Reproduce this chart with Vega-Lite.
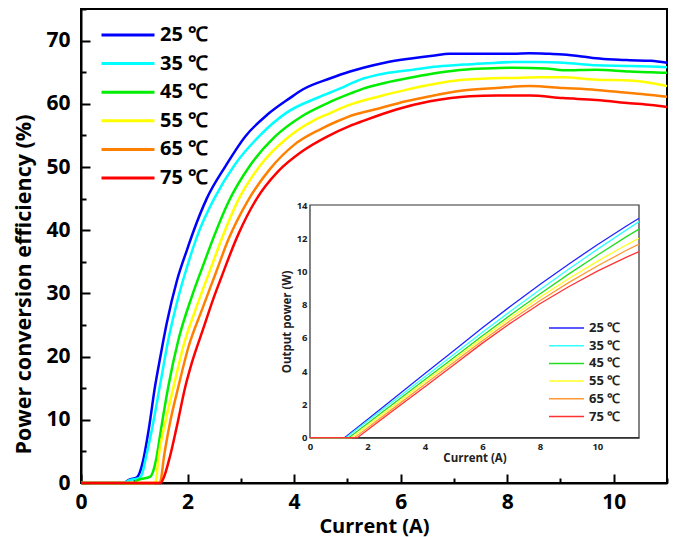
{
  "$schema": "https://vega.github.io/schema/vega-lite/v6.json",
  "width": 586,
  "height": 474,
  "autosize": {"type": "none"},
  "padding": {"left": 81, "top": 9, "right": 6, "bottom": 54},
  "background": "white",
  "config": {"view": {"stroke": "black", "strokeWidth": 2}, "font": "Open Sans"},
  "datasets": {
    "pce": [
      {"s":"25 ℃","x":0,"y":0},{"s":"25 ℃","x":0.8,"y":0},{"s":"25 ℃","x":0.9,"y":0.5},{"s":"25 ℃","x":1.05,"y":0.9},{"s":"25 ℃","x":1.1,"y":1.6},{"s":"25 ℃","x":1.17,"y":3.7},{"s":"25 ℃","x":1.27,"y":8.4},{"s":"25 ℃","x":1.39,"y":15.3},{"s":"25 ℃","x":1.49,"y":20},{"s":"25 ℃","x":1.61,"y":25.3},{"s":"25 ℃","x":1.8,"y":32},{"s":"25 ℃","x":1.99,"y":36.9},{"s":"25 ℃","x":2.11,"y":39.8},{"s":"25 ℃","x":2.36,"y":45.0},{"s":"25 ℃","x":2.71,"y":50.1},{"s":"25 ℃","x":3.08,"y":54.8},{"s":"25 ℃","x":3.5,"y":58.3},{"s":"25 ℃","x":3.92,"y":60.9},{"s":"25 ℃","x":4.17,"y":62.3},{"s":"25 ℃","x":4.67,"y":64.0},{"s":"25 ℃","x":5.05,"y":65.1},{"s":"25 ℃","x":5.3,"y":65.7},{"s":"25 ℃","x":5.7,"y":66.5},{"s":"25 ℃","x":6.23,"y":67.2},{"s":"25 ℃","x":6.6,"y":67.6},{"s":"25 ℃","x":6.92,"y":67.9},{"s":"25 ℃","x":7.5,"y":67.9},{"s":"25 ℃","x":8.11,"y":67.9},{"s":"25 ℃","x":8.42,"y":68.0},{"s":"25 ℃","x":8.8,"y":67.9},{"s":"25 ℃","x":9.05,"y":67.8},{"s":"25 ℃","x":9.4,"y":67.5},{"s":"25 ℃","x":9.67,"y":67.2},{"s":"25 ℃","x":10.0,"y":67.0},{"s":"25 ℃","x":10.3,"y":66.9},{"s":"25 ℃","x":10.7,"y":66.8},{"s":"25 ℃","x":11.0,"y":66.5},
      {"s":"35 ℃","x":0,"y":0},{"s":"35 ℃","x":0.8,"y":0},{"s":"35 ℃","x":0.9,"y":0.4},{"s":"35 ℃","x":1.1,"y":0.8},{"s":"35 ℃","x":1.15,"y":1.5},{"s":"35 ℃","x":1.21,"y":3.7},{"s":"35 ℃","x":1.33,"y":8.4},{"s":"35 ℃","x":1.49,"y":15.8},{"s":"35 ℃","x":1.64,"y":22.7},{"s":"35 ℃","x":1.83,"y":29.5},{"s":"35 ℃","x":2.02,"y":35.0},{"s":"35 ℃","x":2.2,"y":39.5},{"s":"35 ℃","x":2.5,"y":45.0},{"s":"35 ℃","x":2.89,"y":50.4},{"s":"35 ℃","x":3.36,"y":55.0},{"s":"35 ℃","x":3.86,"y":58.6},{"s":"35 ℃","x":4.45,"y":61.0},{"s":"35 ℃","x":4.8,"y":62.2},{"s":"35 ℃","x":5.3,"y":64.0},{"s":"35 ℃","x":5.7,"y":64.8},{"s":"35 ℃","x":6.23,"y":65.4},{"s":"35 ℃","x":6.7,"y":65.9},{"s":"35 ℃","x":7.17,"y":66.2},{"s":"35 ℃","x":7.6,"y":66.4},{"s":"35 ℃","x":8.11,"y":66.6},{"s":"35 ℃","x":8.6,"y":66.6},{"s":"35 ℃","x":9.05,"y":66.5},{"s":"35 ℃","x":9.67,"y":66.1},{"s":"35 ℃","x":10.3,"y":66.0},{"s":"35 ℃","x":10.7,"y":65.9},{"s":"35 ℃","x":11.0,"y":65.8},
      {"s":"45 ℃","x":0,"y":0},{"s":"45 ℃","x":1.0,"y":0},{"s":"45 ℃","x":1.05,"y":0.4},{"s":"45 ℃","x":1.3,"y":1.0},{"s":"45 ℃","x":1.36,"y":2.0},{"s":"45 ℃","x":1.41,"y":3.7},{"s":"45 ℃","x":1.5,"y":8.4},{"s":"45 ℃","x":1.64,"y":15.3},{"s":"45 ℃","x":1.83,"y":22.7},{"s":"45 ℃","x":2.08,"y":29.5},{"s":"45 ℃","x":2.3,"y":34.6},{"s":"45 ℃","x":2.5,"y":39.1},{"s":"45 ℃","x":2.77,"y":44.5},{"s":"45 ℃","x":3.17,"y":50.2},{"s":"45 ℃","x":3.64,"y":54.8},{"s":"45 ℃","x":4.14,"y":58.0},{"s":"45 ℃","x":4.65,"y":60.2},{"s":"45 ℃","x":5.05,"y":61.6},{"s":"45 ℃","x":5.3,"y":62.4},{"s":"45 ℃","x":5.7,"y":63.3},{"s":"45 ℃","x":6.23,"y":64.2},{"s":"45 ℃","x":6.7,"y":64.9},{"s":"45 ℃","x":7.17,"y":65.4},{"s":"45 ℃","x":7.6,"y":65.6},{"s":"45 ℃","x":8.11,"y":65.7},{"s":"45 ℃","x":8.73,"y":65.6},{"s":"45 ℃","x":9.05,"y":65.3},{"s":"45 ℃","x":9.67,"y":65.4},{"s":"45 ℃","x":10.3,"y":65.1},{"s":"45 ℃","x":10.7,"y":65.0},{"s":"45 ℃","x":11.0,"y":64.9},
      {"s":"55 ℃","x":0,"y":0},{"s":"55 ℃","x":1.38,"y":0},{"s":"55 ℃","x":1.41,"y":0.5},{"s":"55 ℃","x":1.45,"y":3.7},{"s":"55 ℃","x":1.58,"y":9.5},{"s":"55 ℃","x":1.74,"y":15.3},{"s":"55 ℃","x":1.92,"y":21.6},{"s":"55 ℃","x":2.17,"y":27.9},{"s":"55 ℃","x":2.42,"y":33.6},{"s":"55 ℃","x":2.64,"y":38.6},{"s":"55 ℃","x":2.93,"y":44.4},{"s":"55 ℃","x":3.36,"y":50.2},{"s":"55 ℃","x":3.86,"y":54.5},{"s":"55 ℃","x":4.4,"y":57.5},{"s":"55 ℃","x":4.67,"y":58.5},{"s":"55 ℃","x":5.0,"y":59.7},{"s":"55 ℃","x":5.61,"y":61.2},{"s":"55 ℃","x":6.1,"y":62.2},{"s":"55 ℃","x":6.55,"y":63.0},{"s":"55 ℃","x":7.17,"y":63.8},{"s":"55 ℃","x":7.6,"y":64.0},{"s":"55 ℃","x":8.11,"y":64.1},{"s":"55 ℃","x":8.6,"y":64.2},{"s":"55 ℃","x":9.05,"y":64.2},{"s":"55 ℃","x":9.67,"y":63.8},{"s":"55 ℃","x":10.3,"y":63.7},{"s":"55 ℃","x":10.7,"y":63.3},{"s":"55 ℃","x":11.0,"y":62.8},
      {"s":"65 ℃","x":0,"y":0},{"s":"65 ℃","x":1.47,"y":0},{"s":"65 ℃","x":1.5,"y":0.5},{"s":"65 ℃","x":1.55,"y":3.7},{"s":"65 ℃","x":1.67,"y":9.5},{"s":"65 ℃","x":1.83,"y":15.3},{"s":"65 ℃","x":2.02,"y":21.6},{"s":"65 ℃","x":2.27,"y":27.4},{"s":"65 ℃","x":2.52,"y":33.0},{"s":"65 ℃","x":2.77,"y":38.6},{"s":"65 ℃","x":3.12,"y":44.5},{"s":"65 ℃","x":3.55,"y":49.7},{"s":"65 ℃","x":4.0,"y":53.5},{"s":"65 ℃","x":4.5,"y":56.0},{"s":"65 ℃","x":4.8,"y":57.2},{"s":"65 ℃","x":5.0,"y":57.9},{"s":"65 ℃","x":5.61,"y":59.3},{"s":"65 ℃","x":6.1,"y":60.4},{"s":"65 ℃","x":6.55,"y":61.2},{"s":"65 ℃","x":7.17,"y":62.1},{"s":"65 ℃","x":7.8,"y":62.5},{"s":"65 ℃","x":8.42,"y":62.8},{"s":"65 ℃","x":9.05,"y":62.5},{"s":"65 ℃","x":9.67,"y":62.2},{"s":"65 ℃","x":10.3,"y":61.7},{"s":"65 ℃","x":10.7,"y":61.4},{"s":"65 ℃","x":11.0,"y":61.1},
      {"s":"75 ℃","x":0,"y":0},{"s":"75 ℃","x":1.49,"y":0},{"s":"75 ℃","x":1.55,"y":0.8},{"s":"75 ℃","x":1.67,"y":4.2},{"s":"75 ℃","x":1.8,"y":9.0},{"s":"75 ℃","x":1.96,"y":15.3},{"s":"75 ℃","x":2.08,"y":19.0},{"s":"75 ℃","x":2.29,"y":24.3},{"s":"75 ℃","x":2.49,"y":29.3},{"s":"75 ℃","x":2.61,"y":32.0},{"s":"75 ℃","x":2.95,"y":39.3},{"s":"75 ℃","x":3.3,"y":45.0},{"s":"75 ℃","x":3.7,"y":49.3},{"s":"75 ℃","x":4.14,"y":52.4},{"s":"75 ℃","x":4.62,"y":54.8},{"s":"75 ℃","x":5.05,"y":56.5},{"s":"75 ℃","x":5.3,"y":57.3},{"s":"75 ℃","x":5.92,"y":59.1},{"s":"75 ℃","x":6.55,"y":60.4},{"s":"75 ℃","x":7.3,"y":61.2},{"s":"75 ℃","x":7.8,"y":61.3},{"s":"75 ℃","x":8.42,"y":61.3},{"s":"75 ℃","x":9.05,"y":60.9},{"s":"75 ℃","x":9.67,"y":60.6},{"s":"75 ℃","x":10.3,"y":60.1},{"s":"75 ℃","x":10.7,"y":59.8},{"s":"75 ℃","x":11.0,"y":59.5}
    ],
    "pw": [
      {"s":"25 ℃","x":0,"y":0},{"s":"25 ℃","x":1.2,"y":0},{"s":"25 ℃","x":2,"y":1.10},{"s":"25 ℃","x":3,"y":2.48},{"s":"25 ℃","x":4,"y":3.86},{"s":"25 ℃","x":5,"y":5.23},{"s":"25 ℃","x":6,"y":6.61},{"s":"25 ℃","x":7,"y":7.94},{"s":"25 ℃","x":8,"y":9.22},{"s":"25 ℃","x":9,"y":10.44},{"s":"25 ℃","x":10,"y":11.61},{"s":"25 ℃","x":11,"y":12.72},{"s":"25 ℃","x":11.45,"y":13.2},
      {"s":"35 ℃","x":0,"y":0},{"s":"35 ℃","x":1.25,"y":0},{"s":"35 ℃","x":2,"y":1.00},{"s":"35 ℃","x":3,"y":2.33},{"s":"35 ℃","x":4,"y":3.67},{"s":"35 ℃","x":5,"y":5.00},{"s":"35 ℃","x":6,"y":6.34},{"s":"35 ℃","x":7,"y":7.64},{"s":"35 ℃","x":8,"y":8.90},{"s":"35 ℃","x":9,"y":10.14},{"s":"35 ℃","x":10,"y":11.33},{"s":"35 ℃","x":11,"y":12.49},{"s":"35 ℃","x":11.45,"y":13.0},
      {"s":"45 ℃","x":0,"y":0},{"s":"45 ℃","x":1.35,"y":0},{"s":"45 ℃","x":2,"y":0.86},{"s":"45 ℃","x":3,"y":2.18},{"s":"45 ℃","x":4,"y":3.50},{"s":"45 ℃","x":5,"y":4.81},{"s":"45 ℃","x":6,"y":6.13},{"s":"45 ℃","x":7,"y":7.41},{"s":"45 ℃","x":8,"y":8.65},{"s":"45 ℃","x":9,"y":9.84},{"s":"45 ℃","x":10,"y":10.98},{"s":"45 ℃","x":11,"y":12.08},{"s":"45 ℃","x":11.45,"y":12.55},
      {"s":"55 ℃","x":0,"y":0},{"s":"55 ℃","x":1.45,"y":0},{"s":"55 ℃","x":2,"y":0.72},{"s":"55 ℃","x":3,"y":2.04},{"s":"55 ℃","x":4,"y":3.36},{"s":"55 ℃","x":5,"y":4.68},{"s":"55 ℃","x":6,"y":5.99},{"s":"55 ℃","x":7,"y":7.25},{"s":"55 ℃","x":8,"y":8.45},{"s":"55 ℃","x":9,"y":9.56},{"s":"55 ℃","x":10,"y":10.61},{"s":"55 ℃","x":11,"y":11.59},{"s":"55 ℃","x":11.45,"y":12.0},
      {"s":"65 ℃","x":0,"y":0},{"s":"65 ℃","x":1.55,"y":0},{"s":"65 ℃","x":2,"y":0.59},{"s":"65 ℃","x":3,"y":1.90},{"s":"65 ℃","x":4,"y":3.21},{"s":"65 ℃","x":5,"y":4.52},{"s":"65 ℃","x":6,"y":5.83},{"s":"65 ℃","x":7,"y":7.08},{"s":"65 ℃","x":8,"y":8.24},{"s":"65 ℃","x":9,"y":9.33},{"s":"65 ℃","x":10,"y":10.33},{"s":"65 ℃","x":11,"y":11.26},{"s":"65 ℃","x":11.45,"y":11.65},
      {"s":"75 ℃","x":0,"y":0},{"s":"75 ℃","x":1.65,"y":0},{"s":"75 ℃","x":2,"y":0.46},{"s":"75 ℃","x":3,"y":1.77},{"s":"75 ℃","x":4,"y":3.07},{"s":"75 ℃","x":5,"y":4.38},{"s":"75 ℃","x":6,"y":5.69},{"s":"75 ℃","x":7,"y":6.92},{"s":"75 ℃","x":8,"y":8.06},{"s":"75 ℃","x":9,"y":9.08},{"s":"75 ℃","x":10,"y":10.02},{"s":"75 ℃","x":11,"y":10.85},{"s":"75 ℃","x":11.45,"y":11.2}
    ]
  },
  "layer": [
    {
      "data": {"name": "pce"},
      "mark": {"type": "line", "strokeWidth": 2.5, "interpolate": "monotone"},
      "encoding": {
        "x": {"field": "x", "type": "quantitative",
          "scale": {"domain": [0, 11], "nice": false, "zero": false},
          "axis": {"orient": "bottom", "title": "Current (A)", "values": [0,1,2,3,4,5,6,7,8,9,10,11],
            "labelExpr": "datum.value % 2 == 0 ? datum.label : ''",
            "tickSize": {"condition": {"test": "datum.value % 2 == 0", "value": -9}, "value": -5},
            "tickColor": "black", "tickWidth": 2, "domainColor": "black", "domainWidth": 2, "grid": false,
            "labelFontSize": 21, "labelFontWeight": "bold", "labelColor": "black", "labelPadding": 17, "labelFlush": false,
            "titleFontSize": 20, "titleFontWeight": "bold", "titleColor": "black", "titlePadding": 4}},
        "y": {"field": "y", "type": "quantitative",
          "scale": {"domain": [0, 75], "nice": false, "zero": false},
          "axis": {"orient": "left", "title": "Power conversion efficiency (%)", "values": [0,5,10,15,20,25,30,35,40,45,50,55,60,65,70,75],
            "labelExpr": "datum.value % 10 == 0 ? datum.label : ''",
            "tickSize": {"condition": {"test": "datum.value % 10 == 0", "value": -9}, "value": -5},
            "tickColor": "black", "tickWidth": 2, "domainColor": "black", "domainWidth": 2, "grid": false,
            "labelFontSize": 21, "labelFontWeight": "bold", "labelColor": "black", "labelPadding": 20, "labelFlush": false,
            "titleFontSize": 21.5, "titleFontWeight": "bold", "titleColor": "black", "titlePadding": 10, "titleY": 275}},
        "color": {"field": "s", "type": "nominal",
          "scale": {"domain": ["25 ℃","35 ℃","45 ℃","55 ℃","65 ℃","75 ℃"], "range": ["#0000FF","#00FFFF","#00EE00","#FFFF00","#FF8000","#FF0000"]},
          "legend": {"orient": "none", "legendX": 19, "legendY": 15, "title": null, "symbolType": "stroke", "symbolSize": 2809, "symbolStrokeWidth": 3,
            "labelFontSize": 20, "labelFontWeight": "bold", "labelColor": "black", "labelOffset": 4, "clipHeight": 22, "rowPadding": 6.6}}
      }
    },
    {
      "layer": [
        {
          "data": {"values": [{}]},
          "mark": {"type": "rect", "fill": "white", "stroke": "#333333", "strokeWidth": 1.2},
          "encoding": {
            "x": {"datum": 0, "type": "quantitative", "title": "Current (A)"},
            "x2": {"datum": 11.45},
            "y": {"datum": 0, "type": "quantitative", "title": "Output power (W)"},
            "y2": {"datum": 14}
          }
        },
        {
          "data": {"name": "pw"},
          "mark": {"type": "line", "strokeWidth": 1.3},
          "encoding": {
            "x": {"field": "x", "type": "quantitative", "title": "Current (A)",
              "scale": {"domain": [0, 11.45], "range": [229, 558], "nice": false, "zero": false},
              "axis": {"orient": "bottom", "offset": -45.3, "values": [0,1,2,3,4,5,6,7,8,9,10,11],
                "labelExpr": "datum.value % 2 == 0 ? datum.label : ''",
                "tickSize": {"condition": {"test": "datum.value % 2 == 0", "value": -4}, "value": -2},
                "tickColor": "#333333", "tickWidth": 1, "domainColor": "#333333", "domainWidth": 1.2, "grid": false,
                "labelFontSize": 9.5, "labelFontWeight": "bold", "labelColor": "#222222", "labelPadding": 7.5, "labelFlush": false,
                "titleFontSize": 11.5, "titleFontWeight": "bold", "titleColor": "#222222", "titlePadding": 2}},
            "y": {"field": "y", "type": "quantitative", "title": "Output power (W)",
              "scale": {"domain": [0, 14], "range": [428.7, 196], "nice": false, "zero": false},
              "axis": {"orient": "left", "offset": -229, "values": [0,1,2,3,4,5,6,7,8,9,10,11,12,13,14],
                "labelExpr": "datum.value % 2 == 0 ? datum.label : ''",
                "tickSize": {"condition": {"test": "datum.value % 2 == 0", "value": -4}, "value": -2},
                "tickColor": "#333333", "tickWidth": 1, "domainColor": "#333333", "domainWidth": 1.2, "grid": false,
                "labelFontSize": 9.5, "labelFontWeight": "bold", "labelColor": "#222222", "labelPadding": 7, "labelFlush": false,
                "titleFontSize": 11.5, "titleFontWeight": "bold", "titleColor": "#222222", "titlePadding": 4}},
            "color": {"field": "s", "type": "nominal",
              "scale": {"domain": ["25 ℃","35 ℃","45 ℃","55 ℃","65 ℃","75 ℃"], "range": ["#2222FF","#33FFFF","#22DD22","#FFFF22","#FF9933","#FF3333"]},
              "legend": {"orient": "none", "legendX": 467, "legendY": 312, "title": null, "symbolType": "stroke", "symbolSize": 1225, "symbolStrokeWidth": 1.5,
                "labelFontSize": 13, "labelFontWeight": "bold", "labelColor": "#222222", "labelOffset": 4, "clipHeight": 14, "rowPadding": 3.7}}
          }
        }
      ]
    }
  ],
  "resolve": {
    "scale": {"x": "independent", "y": "independent", "color": "independent"},
    "axis": {"x": "independent", "y": "independent"},
    "legend": {"color": "independent"}
  }
}
